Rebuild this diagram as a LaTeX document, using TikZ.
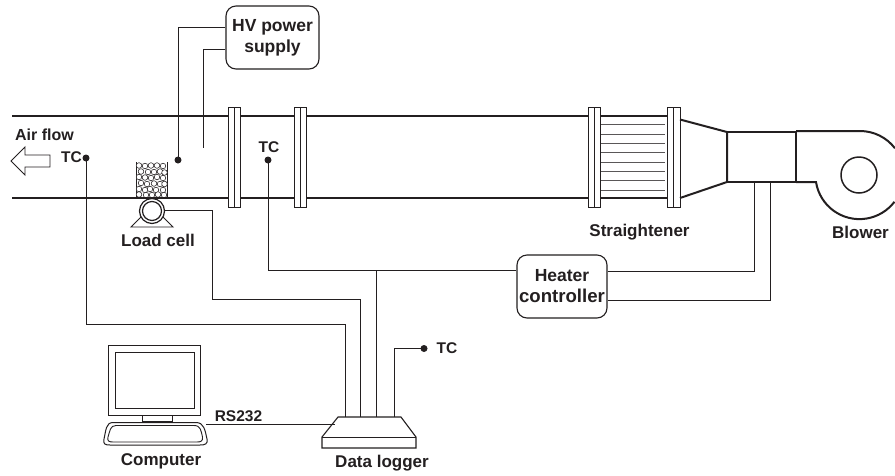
\documentclass[tikz,border=0pt]{standalone}
\usepackage{fontspec}
\setmainfont{Liberation Sans}
\definecolor{ink}{HTML}{231F20}
\tikzset{
  wire/.style={draw=ink,line width=1pt,line join=miter},
  pipe/.style={draw=ink,line width=2pt},
  thin part/.style={draw=ink,line width=.9pt},
  flangebox/.style={draw=ink,line width=1pt,fill=white},
  fin/.style={draw=ink!75,line width=1pt},
  dot/.style={circle,fill=ink,inner sep=0pt,minimum size=7pt},
  rbox/.style={draw=ink,line width=1.1pt,rounded corners=10pt,fill=white,align=center,font=\fontsize{17.5}{21}\selectfont\bfseries,text=ink,inner sep=0pt},
  lab/.style={font=\fontsize{17}{20}\selectfont\bfseries,text=ink,inner sep=0pt},
  lab small/.style={font=\fontsize{15.5}{18}\selectfont\bfseries,text=ink,inner sep=0pt},
  bead/.style={draw=ink,line width=.55pt,fill=white}
}
\newcommand{\flange}[3]{%
  \draw[flangebox] (#1,107) rectangle (#3,207);
  \draw[thin part] (#2,107) -- (#2,207);}
\begin{document}
\begin{tikzpicture}[x=1pt,y=-1pt]
\useasboundingbox (0,0) rectangle (895,475);
\fill[white] (0,0) rectangle (895,475);

\node[rbox,minimum width=93pt,minimum height=63pt] (hv) at (272.5,37.5) {HV power\\supply};
\node[rbox,minimum width=90pt,minimum height=63pt] (heater) at (562,286.5) {Heater\\{\fontsize{18.6}{21}\selectfont controller}};

\node[dot] (dotHV) at (178,160) {};
\coordinate (probe) at (203,148);
\node[dot] (tcA) at (86,158) {};
\node[dot] (tcB) at (268,160) {};
\node[dot] (tcC) at (424,348.5) {};

\draw[wire] (hv.west |- 0,27) -| (dotHV.center);
\draw[wire] (hv.west |- 0,49) -| (probe);

% duct
\coordinate (ductTL) at (12,116);
\coordinate (ductTR) at (588,116);
\coordinate (ductBL) at (12,198);
\coordinate (ductBR) at (588,198);
\draw[pipe] (ductTL) -- (ductTR);
\draw[pipe] (ductBL) -- (ductBR);
\draw[pipe] (600,116) -- (668,116);
\draw[pipe] (600,198) -- (668,198);
\foreach \y in {124.7,134,143.3,152.7,162,171.3,180.7,190}
  \draw[fin] (601,\y) -- (665,\y);
\flange{228}{234.5}{240.5}
\flange{294}{300.5}{306.5}
\flange{588}{594}{600.5}
\flange{667}{673.5}{680}

% diffuser, heater section, blower
\draw[pipe,line join=miter] (680,119.5) -- (727,132) -- (727,182) -- (680,198);
\draw[pipe] (727,132) -- (796,132) -- (796,182) -- (727,182);
\draw[pipe] (796,131) -- (860,131) arc[start angle=-90,end angle=-37.4,radius=44];
\draw[pipe] (796,182) -- (816,182) arc[start angle=171,end angle=37.4,radius=44];
\draw[draw=ink,line width=1.5pt] (859,175) circle[radius=18];

% sample bed and load cell
\draw[thin part] (136,162) -- (136,198) (167,162) -- (167,198);
\foreach \cx/\cy in {
 139/165.5,145/166,151/165.5,157/165.5,163/166,
 141/171.5,148/172,154/172,160/171.5,164.5/172.5,
 139/177,145/177.5,151/178,157/177,163/178,
 141/183,147/184,154/183.5,160/184,164.5/184,
 139/189,145/190,150/189,156/190,163/190,
 139/194.5,146/195,152/195,158/194.5,164/195}
  \draw[bead] (\cx,\cy) circle[radius=2.8];
\draw[pipe] (136,198) -- (167,198);
\draw[thin part,line join=miter] (131,227) -- (141,217) -- (163,217) -- (173,227) -- cycle;
\node[circle,draw=ink,line width=1.2pt,fill=white,minimum size=25pt,inner sep=0pt] (cell) at (152,211) {};
\draw[draw=ink,line width=1.2pt] (cell.center) circle[radius=9.5];

% data logger
\draw[draw=ink,line width=1.1pt,fill=white,line join=miter] (338,417) -- (401,417) -- (416,437) -- (416,448) -- (322,448) -- (322,437) -- cycle;
\draw[thin part] (322,437) -- (416,437);
\coordinate (dl1) at (345,417);
\coordinate (dl2) at (360,417);
\coordinate (dl3) at (376,417);
\coordinate (dl4) at (394.7,417);
\coordinate (sec1) at (754,182);
\coordinate (sec2) at (770,182);
\coordinate (junction) at (376,270);
\draw[wire] (tcA.center) |- (345,324) -- (dl1);
\draw[wire] (cell.east |- 0,210) -- (212,210) -- (212,299) -- (360,299) -- (dl2);
\draw[wire] (tcB.center) |- (heater.west |- 0,270);
\draw[wire] (junction) -- (dl3);
\draw[wire] (tcC.center) -- (394.7,348.5) -- (dl4);
\draw[wire] (heater.east |- 0,271) -| (sec1);
\draw[wire] (heater.east |- 0,300) -| (sec2);

% computer
\draw[flangebox] (108.5,345.5) rectangle (200.5,415);
\draw[flangebox] (115.5,352) rectangle (194,408);
\draw[flangebox] (142,415) rectangle (172,421.5);
\draw[flangebox] (113,422.5) -- (196,422.5) .. controls (204,422.5) and (205,430) .. (207,439) .. controls (208,444) and (205,445) .. (200,445) -- (110,445) .. controls (105,445) and (103,444) .. (104,439) .. controls (106,430) and (106,422.5) .. (113,422.5) -- cycle;
\draw[thin part] (116,425.5) -- (194,425.5) .. controls (201,425.5) and (201,431) .. (202.5,437) .. controls (203,441) and (201,442) .. (197,442) -- (113,442) .. controls (109,442) and (107,441) .. (108,437) .. controls (110,431) and (110,425.5) .. (116,425.5) -- cycle;
\coordinate (kb) at (206,424.5);
\coordinate (dlside) at (335,424.5);
\draw[wire] (kb) -- (dlside);

% flow arrow
\draw[thin part,fill=white,line join=miter] (11,161) -- (25,147) -- (25,155) -- (50,155) -- (50,167) -- (25,167) -- (25,175) -- cycle;

% labels
\node[lab small,font=\fontsize{16}{18}\selectfont\bfseries] (airlab) at (44.5,135) {Air flow};
\node[lab small] (tcAlab) at (71.5,157) {TC};
\node[lab small] (tcBlab) at (269,147) {TC};
\node[lab small] (tcClab) at (447,348.5) {TC};
\node[lab small] (rslab) at (238.5,416) {RS232};
\node[lab] (loadlab) at (158,240) {Load cell};
\node[lab] (strlab) at (639.5,232) {Straightener};
\node[lab] (blowlab) at (860.5,232) {Blower};
\node[lab] (comlab) at (161,461) {Computer};
\node[lab] (dllab) at (382,463) {Data logger};
\end{tikzpicture}
\end{document}
